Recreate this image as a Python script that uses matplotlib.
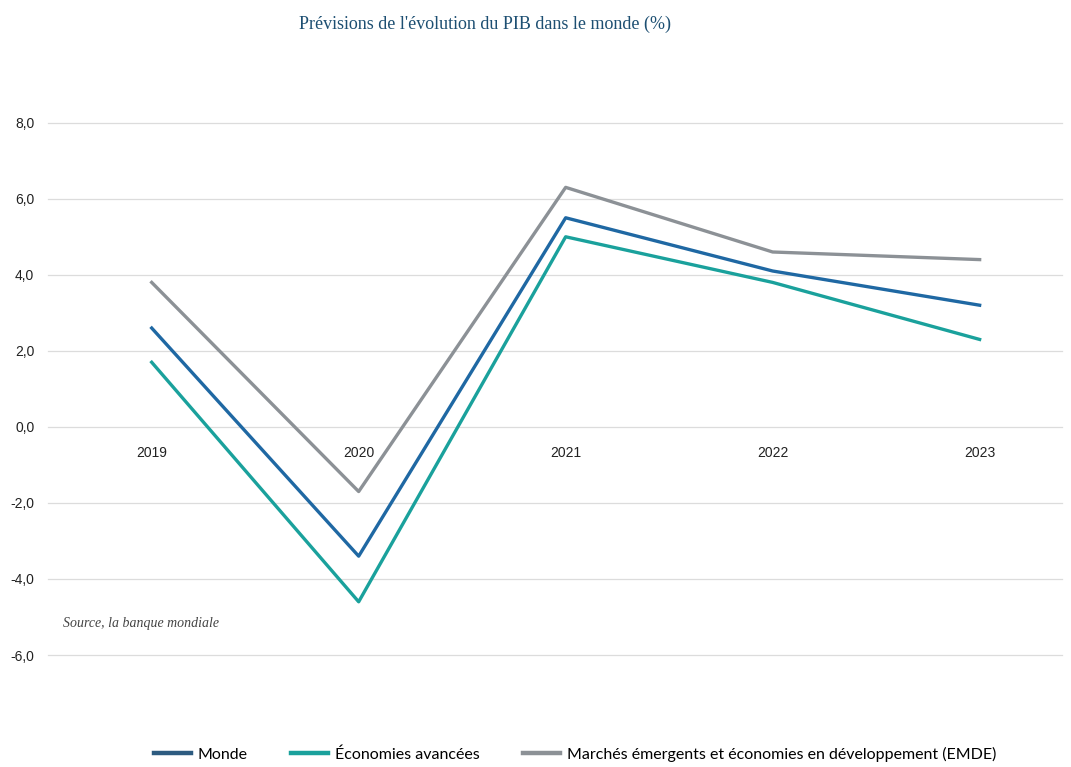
import matplotlib.pyplot as plt
from matplotlib.ticker import FuncFormatter

annees = [2019, 2020, 2021, 2022, 2023]
monde = [2.6, -3.4, 5.5, 4.1, 3.2]
avancees = [1.7, -4.6, 5.0, 3.8, 2.3]
emde = [3.8, -1.7, 6.3, 4.6, 4.4]
y_ticks = [-6, -4, -2, 0, 2, 4, 6, 8]

fig = plt.figure(figsize=(10.71, 7.67), dpi=100)
ax = fig.add_axes([0.045, 0.146, 0.947, 0.694])

ax.plot(annees, emde, color="#8c9196", lw=2.4, label="Marchés émergents et économies en développement (EMDE)")
ax.plot(annees, monde, color="#1f68a3", lw=2.4, label="Monde")
ax.plot(annees, avancees, color="#1aa19c", lw=2.4, label="Économies avancées")

ax.set_xlim(2018.5, 2023.4)
ax.set_ylim(-6, 8)
ax.set_yticks(y_ticks)
ax.yaxis.set_major_formatter(FuncFormatter(lambda v, p: f"{v:.1f}".replace(".", ",")))
ax.set_xticks(annees)
ax.grid(axis="y", color="#dcdcdc", lw=0.9)
for gl in ax.get_ygridlines():
    gl.set_clip_on(False)
ax.set_axisbelow(True)
ax.spines["bottom"].set_position(("data", 0))
for s in ax.spines.values():
    s.set_visible(False)
ax.tick_params(axis="both", length=0, labelsize=10, labelcolor="#222222")
ax.tick_params(axis="x", pad=14)
ax.tick_params(axis="y", pad=10)
for lab in ax.get_xticklabels() + ax.get_yticklabels():
    lab.set_fontfamily("Liberation Sans")

fig.text(0.453, 0.968, "Prévisions de l'évolution du PIB dans le monde (%)",
         ha="center", va="center", fontsize=13, family="Liberation Serif", color="#1d4f72")
ax.text(0.0145, 0.053, "Source, la banque mondiale", transform=ax.transAxes,
        fontsize=10, family="Liberation Serif", style="italic", color="#444444")

h, l = ax.get_legend_handles_labels()
order = [1, 2, 0]
leg = fig.legend([h[i] for i in order], [l[i] for i in order], loc="lower center",
                 bbox_to_anchor=(0.537, -0.012), ncol=3, frameon=False,
                 handlelength=2.3, columnspacing=2.7, handletextpad=0.45,
                 prop={"family": "Lato", "size": 11.5})
for lh in leg.legend_handles:
    lh.set_linewidth(3.2)
leg.legend_handles[0].set_color("#2d5b80")

fig.savefig("out.png", dpi=100)
